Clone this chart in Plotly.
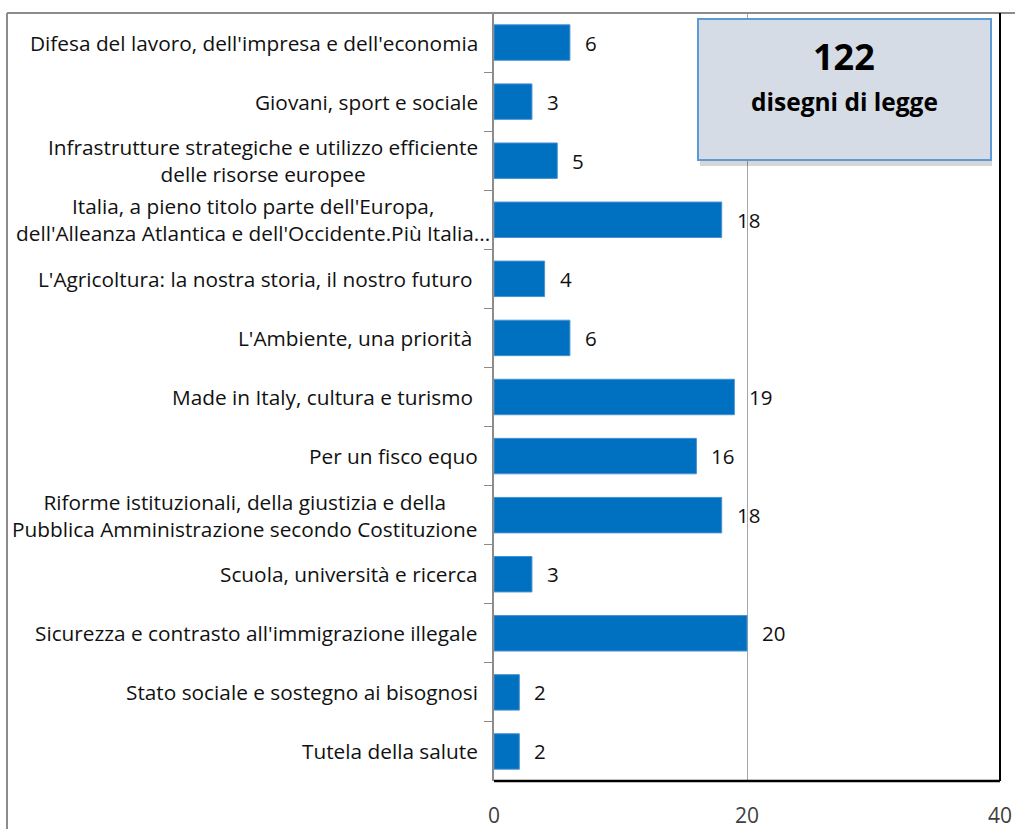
import plotly.graph_objects as go

# categorie (dall'alto verso il basso) e numero di disegni di legge
categorie = [
    "Difesa del lavoro, dell'impresa e dell'economia",
    "Giovani, sport e sociale",
    "Infrastrutture strategiche e utilizzo efficiente<br>delle risorse europee",
    "Italia, a pieno titolo parte dell'Europa,<br>dell'Alleanza Atlantica e dell'Occidente.Più Italia...",
    "L'Agricoltura: la nostra storia, il nostro futuro\u00a0",
    "L'Ambiente, una priorità\u00a0",
    "Made in Italy, cultura e turismo\u00a0",
    "Per un fisco equo",
    "Riforme istituzionali, della giustizia e della<br>Pubblica Amministrazione secondo Costituzione",
    "Scuola, università e ricerca",
    "Sicurezza e contrasto all'immigrazione illegale",
    "Stato sociale e sostegno ai bisognosi",
    "Tutela della salute",
]
valori = [6, 3, 5, 18, 4, 6, 19, 16, 18, 3, 20, 2, 2]
x_ticks = [0, 20, 40]
totale = sum(valori)

FONT = "Open Sans"
BLU = "#0070C0"

W, H = 1015, 829
ML, MR, MT, MB = 494, 15, 13, 48
PW, PH = W - ML - MR, H - MT - MB

fig = go.Figure()

fig.add_trace(go.Bar(
    x=valori,
    y=categorie,
    orientation="h",
    marker=dict(color=BLU, line=dict(color="#4A90D0", width=1)),
    hoverinfo="x+y",
))

# etichette delle categorie (centrate su più righe, come in Excel);
# le righe troppo lunghe arrivano fino all'asse
for cat in categorie:
    riga_max = max(len(r) for r in cat.split("<br>"))
    fig.add_annotation(
        x=0, y=cat, xref="x", yref="y",
        text=cat, showarrow=False,
        xanchor="right", align="center",
        xshift=-2 if riga_max > 50 else -14,
        font=dict(family=FONT, size=20.8, color="#111111"),
    )

# valori a destra delle barre
for cat, v in zip(categorie, valori):
    fig.add_annotation(
        x=v, y=cat, xref="x", yref="y",
        text=str(v), showarrow=False,
        xanchor="left", xshift=13,
        font=dict(family=FONT, size=20.5, color="#111111"),
    )

# riquadro con il totale (pixel della pagina -> coordinate paper)
def px(xp):
    return (xp - ML) / PW

def py(yp):
    return 1 - (yp - MT) / PH

fig.add_shape(type="rect", xref="paper", yref="paper",
              x0=px(700), x1=px(992), y0=py(166), y1=py(24),
              fillcolor="rgba(0,0,0,0.16)", line=dict(width=0), layer="above")
fig.add_shape(type="rect", xref="paper", yref="paper",
              x0=px(698), x1=px(991), y0=py(160), y1=py(19),
              fillcolor="#D6DCE5", line=dict(color="#5B9BD5", width=2), layer="above")
fig.add_annotation(x=px(844), y=py(57), xref="paper", yref="paper",
                   xanchor="center", yanchor="middle",
                   text=f"<b>{totale}</b>", showarrow=False,
                   font=dict(family=FONT, size=36, color="#000000"))
fig.add_annotation(x=px(844), y=py(101), xref="paper", yref="paper",
                   xanchor="center", yanchor="middle",
                   text="<b>disegni di legge</b>", showarrow=False,
                   font=dict(family=FONT, size=24.5, color="#000000"))

# cornice esterna e bordi dell'area del grafico
fig.add_shape(type="line", xref="paper", yref="paper",
              x0=px(7), x1=px(1020), y0=py(13), y1=py(13),
              line=dict(color="#8c8c8c", width=2))
fig.add_shape(type="line", xref="paper", yref="paper",
              x0=px(7), x1=px(7), y0=py(13), y1=py(835),
              line=dict(color="#8c8c8c", width=2))
fig.add_shape(type="line", xref="paper", yref="paper",
              x0=1, x1=1, y0=1, y1=0,
              line=dict(color="#000000", width=2))
fig.add_shape(type="line", xref="paper", yref="paper",
              x0=0, x1=1, y0=0, y1=0,
              line=dict(color="#000000", width=2.5))

fig.update_layout(
    width=W, height=H,
    margin=dict(l=ML, r=MR, t=MT, b=MB),
    plot_bgcolor="white", paper_bgcolor="white",
    bargap=0.4,
    showlegend=False,
    xaxis=dict(
        range=[0, 40], tickvals=x_ticks,
        showgrid=True, gridcolor="#a6a6a6", gridwidth=1,
        zeroline=False, showline=False,
        tickfont=dict(family=FONT, size=21, color="#404040"),
        ticklabelstandoff=20,
        automargin=False,
    ),
    yaxis=dict(
        categoryorder="array", categoryarray=categorie,
        autorange="reversed",
        showticklabels=False,
        showline=True, linecolor="#8c8c8c", linewidth=2,
        ticks="outside", tickson="boundaries", ticklen=8,
        tickcolor="#8c8c8c", tickwidth=1,
        showgrid=False,
        automargin=False,
    ),
)

# niente margine sul body, così la figura occupa esattamente la finestra
fig.write_html("out.html",
               config={"displayModeBar": False},
               post_script="document.body.style.margin='0';document.body.style.overflow='hidden';")
